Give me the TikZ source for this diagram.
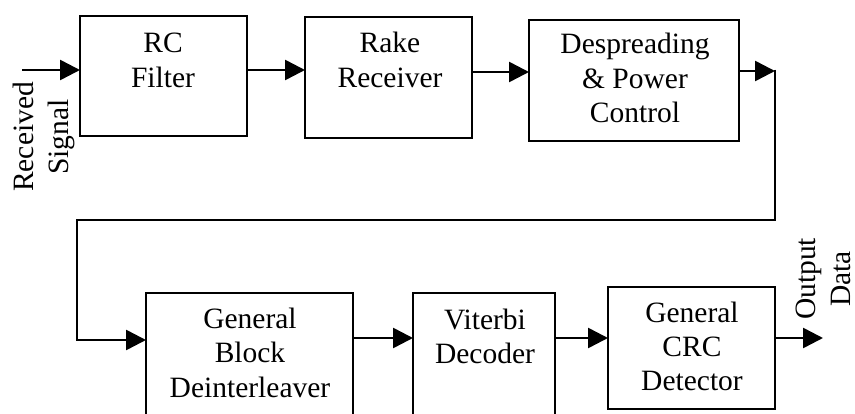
\documentclass[tikz,border=0pt]{standalone}
\usepackage{fontspec}
\setmainfont{Liberation Serif}
\usetikzlibrary{arrows.meta,calc}
\begin{document}
\begin{tikzpicture}[x=1pt,y=-1pt,
  blk/.style={draw,line width=2.6pt,rectangle,inner sep=0pt,outer sep=0pt},
  txt/.style={align=center,anchor=base,inner sep=0pt,
    font=\fontsize{29.5}{34.5}\selectfont},
  wire/.style={line width=2.6pt},
  arr/.style={wire,-{Triangle[length=20pt,width=20pt]}}]
\clip (0,0) rectangle (855,414);

% processing blocks
\node[blk,minimum width=167pt,minimum height=120pt] (rc)   at (163.5,76)  {};
\node[blk,minimum width=167pt,minimum height=121pt] (rake) at (388.5,77.5) {};
\node[blk,minimum width=210pt,minimum height=121pt] (desp) at (634,80.5)  {};
\node[blk,minimum width=207pt,minimum height=132pt] (dein) at (249.5,359) {};
\node[blk,minimum width=142pt,minimum height=132pt] (vit)  at (484,359)   {};
\node[blk,minimum width=167pt,minimum height=122pt] (crc)  at (691.5,348) {};

% block captions (anchored on the baseline of their last line)
\node[txt] (trc)   at (163,87.5)  {RC\\Filter};
\node[txt] (trake) at (390,87.5)  {Rake\\Receiver};
\node[txt] (tdesp) at (635,123)   {Despreading\\\& Power\\Control};
\node[txt] (tdein) at (250,397)   {General\\Block\\Deinterleaver};
\node[txt] (tvit)  at (485,363.5) {Viterbi\\Decoder};
\node[txt] (tcrc)  at (692,391)   {General\\CRC\\Detector};

% side labels
\node[txt,rotate=90] (lin)  at (68,137)  {Received\\Signal};
\node[txt,rotate=90] (lout) at (850,279) {Output\\Data};

% connector rows and bends
\coordinate (in)  at (22,70);
\coordinate (r1)  at (0,70);
\coordinate (r2)  at (0,72);
\coordinate (c1)  at (775,71);
\coordinate (c2)  at (775,220);
\coordinate (c3)  at (77,220);
\coordinate (c4)  at (77,340);
\coordinate (r3)  at (0,338);
\coordinate (out) at (823,338);

\draw[arr] (in) -- (in -| rc.west);
\draw[arr] (rc.east |- r1) -- (rake.west |- r1);
\draw[arr] (rake.east |- r2) -- (desp.west |- r2);
\draw[arr] (desp.east |- c1) -- (c1);
\draw[wire,line join=miter] ($(c1)+(0,-1.3)$) -- (c2) -- (c3) -- (c4) -- ($(c4)+(20,0)$);
\draw[arr] (c4) -- (c4 -| dein.west);
\draw[arr] (dein.east |- r3) -- (vit.west |- r3);
\draw[arr] (vit.east |- r3) -- (crc.west |- r3);
\draw[arr] (crc.east |- r3) -- (out);
\end{tikzpicture}
\end{document}
